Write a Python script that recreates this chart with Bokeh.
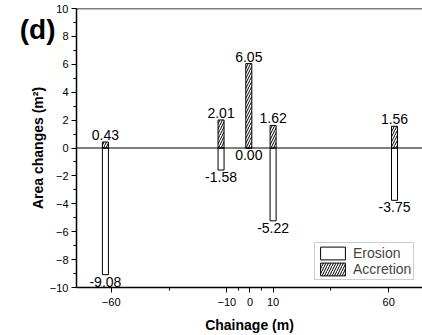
from bokeh.plotting import figure
from bokeh.models import FixedTicker, Span, Legend, LegendItem, Range1d, LinearAxis
from bokeh.embed import file_html
from bokeh.resources import INLINE
from bokeh.core.properties import value

# ---- data ----
chainage = [-62.5, -12.5, -0.5, 10.0, 62.5]
erosion = [-9.08, -1.58, 0.00, -5.22, -3.75]
accretion = [0.43, 2.01, 6.05, 1.62, 1.56]
x_ticks = [-60, -10, 0, 10, 60]
x_minor = [-35, -5, 5, 35]
y_ticks = list(range(-10, 11, 2))
y_minor = list(range(-9, 10, 2))
panel_tag = "(d)"

FONT = "Liberation Sans"

p = figure(width=422, height=335, output_backend="svg", toolbar_location=None,
           x_range=Range1d(-75, 74.6), y_range=Range1d(-10, 10),
           min_border_left=76, min_border_right=0, min_border_top=8,
           min_border_bottom=47)
p.outline_line_color = None
p.grid.visible = False

# zero line and top frame line
p.add_layout(Span(location=0, dimension="width", line_color="black", line_width=1))
p.add_layout(Span(location=10, dimension="width", line_color="black", line_width=1.5))

r_e = p.vbar(x=chainage, top=0, bottom=erosion, width=2.6, fill_color="white",
             line_color="black", line_width=1)
r_a = p.vbar(x=chainage, bottom=0, top=accretion, width=2.6, fill_color="white",
             line_color="black", line_width=1, hatch_pattern="/",
             hatch_color="black", hatch_scale=5, hatch_weight=1)

p.text(x=chainage, y=accretion, text=[f"{v:.2f}" for v in accretion],
       text_align="center", text_baseline="bottom", y_offset=-2,
       text_font=value(FONT), text_font_size="14px", text_color="black")
p.text(x=chainage, y=erosion, text=[f"{v:.2f}" for v in erosion],
       text_align="center", text_baseline="top", y_offset=2,
       text_font=value(FONT), text_font_size="14px", text_color="black")

for ax in (p.xaxis[0], p.yaxis[0]):
    ax.axis_line_width = 1.5
    ax.axis_line_color = "black"
    ax.major_tick_line_color = "black"
    ax.minor_tick_line_color = "black"
    ax.major_tick_in = 0
    ax.major_tick_out = 5
    ax.minor_tick_in = 0
    ax.minor_tick_out = 3
    ax.major_label_text_font = FONT
    ax.major_label_text_font_size = "11px"
    ax.major_label_text_color = "black"
    ax.axis_label_text_font = FONT
    ax.axis_label_text_font_size = "14px"
    ax.axis_label_text_font_style = "bold"
    ax.axis_label_text_color = "black"

p.xaxis[0].ticker = FixedTicker(ticks=x_ticks, minor_ticks=x_minor)
p.yaxis[0].ticker = FixedTicker(ticks=y_ticks, minor_ticks=y_minor)
p.xaxis[0].axis_label = "Chainage (m)"
p.yaxis[0].axis_label = "Area changes (m²)"
p.xaxis[0].major_label_standoff = 5
p.xaxis[0].axis_label_standoff = 8
p.yaxis[0].major_label_standoff = 3
p.yaxis[0].axis_label_standoff = 1

# panel tag "(d)" drawn as the single label of an invisible extra left axis
tag_axis = LinearAxis(ticker=FixedTicker(ticks=[8.5], minor_ticks=[]),
                      major_label_overrides={8.5: panel_tag},
                      axis_line_color=None, major_tick_line_color=None,
                      minor_tick_line_color=None, major_tick_in=0,
                      major_tick_out=0, minor_tick_in=0, minor_tick_out=0,
                      major_label_standoff=-29, major_label_text_font=FONT,
                      major_label_text_font_size="28px",
                      major_label_text_font_style="bold",
                      major_label_text_color="black",
                      major_label_orientation="horizontal")
p.add_layout(tag_axis, "left")

legend = Legend(items=[LegendItem(label="Erosion", renderers=[r_e]),
                       LegendItem(label="Accretion", renderers=[r_a])],
                location=(238, 7), glyph_width=31, glyph_height=16,
                label_height=16, spacing=0, padding=2, margin=0,
                label_standoff=5, label_text_font=FONT,
                label_text_font_size="14px", border_line_color="#9a9a9a",
                border_line_width=1, background_fill_color="white",
                background_fill_alpha=1)
p.add_layout(legend)

open("out.html", "w").write(file_html(p, INLINE))
